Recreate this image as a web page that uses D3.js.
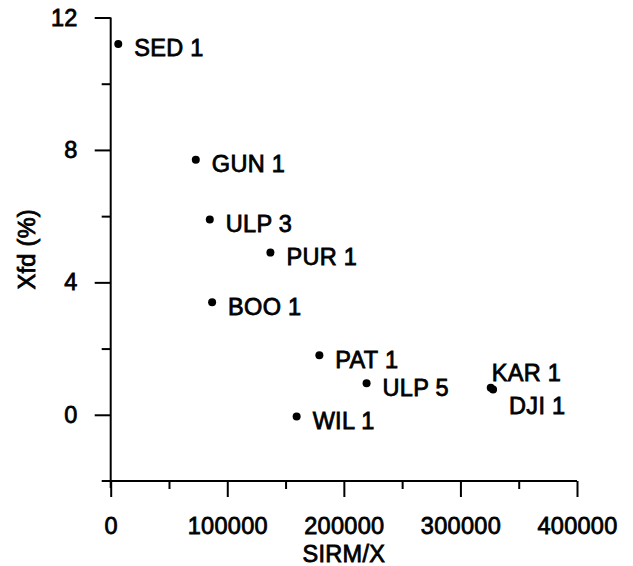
<!DOCTYPE html>
<html>
<head>
<meta charset="utf-8">
<script src="https://cdn.jsdelivr.net/npm/d3@7"></script>
<style>
  body { margin: 0; background: #fff; }
  svg { display: block; font-family: "Liberation Sans", Arial, sans-serif; }
  text { font-size: 23.5px; letter-spacing: 0.3px; fill: #000; stroke: #000; stroke-width: 0.8px; }
</style>
</head>
<body>
<script>
// Data
const samples = ['SED 1', 'GUN 1', 'ULP 3', 'PUR 1', 'BOO 1', 'PAT 1', 'ULP 5', 'WIL 1', 'KAR 1', 'DJI 1'];
const sirmX = [6500, 73000, 85000, 137000, 87000, 179000, 219500, 159500, 326000, 328000];
const xfd = [11.2, 7.7, 5.9, 4.9, 3.4, 1.8, 0.95, -0.05, 0.82, 0.76];
const xTicks = [0, 100000, 200000, 300000, 400000];
const yTicks = [0, 4, 8, 12];

// Label placement (KAR 1 above its dot, DJI 1 below)
const labelOffset = { 'KAR 1': [1, -7], 'DJI 1': [16, 24] };

// Constants
const width = 633;
const height = 566;
const plotLeft = 110.7, plotRight = 577, plotTop = 17.5, plotBottom = 481;

const svg = d3.select('body')
    .append('svg')
    .attr('width', width)
    .attr('height', height);

// Scales
const x = d3.scaleLinear().domain([0, 400000]).range([plotLeft, plotRight]);
const y = d3.scaleLinear().domain([-2, 12]).range([plotBottom, plotTop]);

// Axis lines
svg.append('line')
    .attr('x1', plotLeft - 9).attr('x2', plotRight)
    .attr('y1', plotBottom).attr('y2', plotBottom)
    .attr('stroke', '#000').attr('stroke-width', 2);
svg.append('line')
    .attr('x1', plotLeft).attr('x2', plotLeft)
    .attr('y1', plotTop).attr('y2', plotBottom + 7)
    .attr('stroke', '#000').attr('stroke-width', 2);

// Minor ticks
svg.append('g')
    .attr('transform', `translate(0,${plotBottom})`)
    .call(d3.axisBottom(x).tickValues(d3.range(50000, 400000, 100000)).tickSize(8).tickFormat(''))
    .call(g => g.select('.domain').remove());
svg.append('g')
    .attr('transform', `translate(${plotLeft},0)`)
    .call(d3.axisLeft(y).tickValues([10, 6, 2]).tickSize(9).tickFormat(''))
    .call(g => g.select('.domain').remove());

// Major ticks
svg.append('g')
    .attr('transform', `translate(0,${plotBottom})`)
    .call(d3.axisBottom(x).tickValues(xTicks).tickSize(16).tickPadding(20).tickFormat(d3.format('d')))
    .call(g => g.select('.domain').remove());
svg.append('g')
    .attr('transform', `translate(${plotLeft},0)`)
    .call(d3.axisLeft(y).tickValues(yTicks).tickSize(16).tickPadding(17).tickFormat(d3.format('d')))
    .call(g => g.select('.domain').remove());

svg.selectAll('.tick line').attr('stroke', '#000').attr('stroke-width', 2);
svg.selectAll('.tick text').attr('fill', '#000');
svg.selectAll('g').attr('font-size', null).attr('font-family', null);

// Axis titles
svg.append('text')
    .attr('x', (plotLeft + plotRight) / 2)
    .attr('y', 562)
    .attr('text-anchor', 'middle')
    .text('SIRM/X');
svg.append('text')
    .attr('transform', `translate(35,${(plotTop + plotBottom) / 2}) rotate(-90)`)
    .attr('text-anchor', 'middle')
    .text('Xfd (%)');

// Points
const points = samples.map((name, i) => ({ name, sx: sirmX[i], fd: xfd[i] }));

svg.append('g')
    .selectAll('circle')
    .data(points)
    .join('circle')
    .attr('cx', d => x(d.sx))
    .attr('cy', d => y(d.fd))
    .attr('r', 4)
    .attr('fill', '#000');

svg.append('g')
    .selectAll('text')
    .data(points)
    .join('text')
    .attr('x', d => x(d.sx) + (labelOffset[d.name] ? labelOffset[d.name][0] : 16))
    .attr('y', d => y(d.fd) + (labelOffset[d.name] ? labelOffset[d.name][1] : 12.5))
    .text(d => d.name);
</script>
</body>
</html>
